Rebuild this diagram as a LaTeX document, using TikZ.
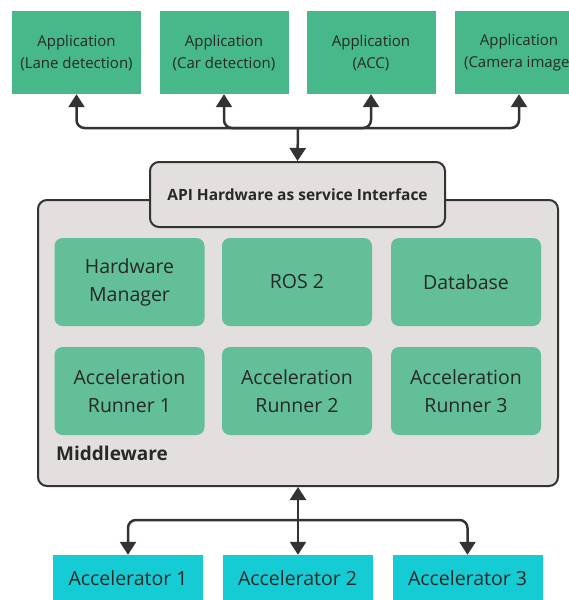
\documentclass[tikz,border=0pt]{standalone}
\usepackage{fontspec}
\setmainfont{Open Sans}
\usetikzlibrary{arrows.meta}
\definecolor{appgreen}{RGB}{71,184,138}
\definecolor{innergreen}{RGB}{98,191,152}
\definecolor{accel}{RGB}{22,204,212}
\definecolor{mwgray}{RGB}{227,223,222}
\definecolor{ink}{RGB}{51,51,51}
\definecolor{txt}{RGB}{40,40,40}
\tikzset{
  appbox/.style={fill=appgreen, text=txt, minimum width=129pt, minimum height=83pt, inner sep=0pt, align=center, font=\fontsize{15}{22}\selectfont},
  innerbox/.style={fill=innergreen, rounded corners=8pt, text=txt, minimum width=150pt, minimum height=88pt, inner sep=0pt, align=center, font=\fontsize{19.5}{28}\selectfont},
  accbox/.style={fill=accel, text=txt, minimum width=150pt, minimum height=47pt, inner sep=0pt, font=\fontsize{19.5}{24}\selectfont},
  graybox/.style={fill=mwgray, draw=ink, line width=2pt, rounded corners=9pt, inner sep=0pt},
  conn/.style={draw=ink, line width=2.5pt, rounded corners=8pt, -{Triangle[width=16pt,length=13pt]}},
}
\begin{document}
\begin{tikzpicture}[x=1pt,y=-1pt]
\useasboundingbox (0,0) rectangle (569,600);
\clip (0,0) rectangle (569,600);
\fill[white] (0,0) rectangle (569,600);
% applications
\node[appbox] (app1) at (76.5,52.5) {Application\\(Lane detection)};
\node[appbox] (app2) at (224,52.5) {Application\\(Car detection)};
\node[appbox] (app3) at (371,52.5) {Application\\(ACC)};
\node[appbox] (app4) at (519,52.5) {Application\\(Camera image)};
% middleware
\node[graybox, minimum width=520pt, minimum height=286pt] (mw) at (298,343) {};
\node[anchor=base west, text=txt, font=\fontsize{19}{22}\selectfont\bfseries, inner sep=0pt] (mwlabel) at (56,460) {Middleware};
\node[graybox, minimum width=295pt, minimum height=65pt, text=txt, font=\fontsize{15.5}{18}\selectfont\bfseries] (api) at (297.5,194.5) {API Hardware as service Interface};
% inner components
\node[innerbox] (hw) at (129.5,282) {Hardware\\Manager};
\node[innerbox] (ros) at (297,282) {ROS 2};
\node[innerbox] (db) at (466,282) {Database};
\node[innerbox] (ar1) at (129.5,391) {Acceleration\\Runner 1};
\node[innerbox] (ar2) at (297,391) {Acceleration\\Runner 2};
\node[innerbox] (ar3) at (466,391) {Acceleration\\Runner 3};
% accelerators
\node[accbox] (acc1) at (128,578.5) {Accelerator 1};
\node[accbox] (acc2) at (297.5,578.5) {Accelerator 2};
\node[accbox] (acc3) at (467.5,578.5) {Accelerator 3};
% top connectors
\coordinate (hubT) at (298,128);
\draw[conn] (hubT) -- (api.north);
\draw[conn] (hubT) -| (app1.south);
\draw[conn] (hubT) -| (app2.south);
\draw[conn] (hubT) -| (app3.south);
\draw[conn] (hubT) -| (app4.south);
% bottom connectors
\coordinate (hubB) at (298,520);
\draw[conn] (hubB) -- (mw.south);
\draw[conn] (hubB) -| (acc1.north);
\draw[conn] (hubB) -- (acc2.north -| hubB);
\draw[conn] (hubB) -| (acc3.north);
\end{tikzpicture}
\end{document}
